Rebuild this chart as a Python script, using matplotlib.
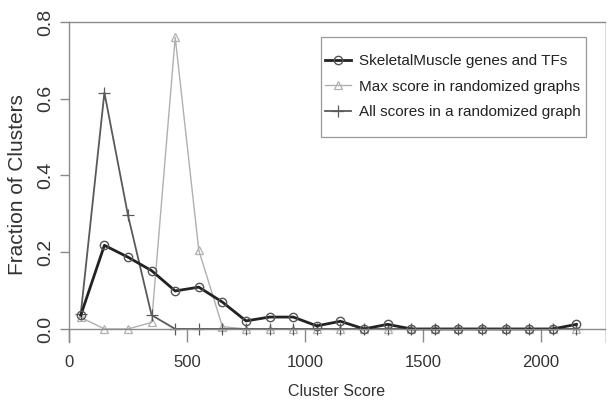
import numpy as np
import matplotlib.pyplot as plt
from matplotlib.patches import Rectangle

plt.rcParams['font.family'] = ['Liberation Sans', 'DejaVu Sans']

# cluster score bins (bin centres)
scores = [50, 150, 250, 350, 450, 550, 650, 750, 850, 950, 1050,
          1150, 1250, 1350, 1450, 1550, 1650, 1750, 1850, 1950, 2050, 2150]

skeletal = [0.036, 0.218, 0.187, 0.152, 0.099, 0.109, 0.070, 0.021, 0.031, 0.031, 0.008,
            0.020, 0.0, 0.012, 0.0, 0.0, 0.0, 0.0, 0.0, 0.0, 0.0, 0.012]
max_random = [0.03, 0.0, 0.0, 0.017, 0.76, 0.205, 0.006, 0.0, 0.0, 0.0, 0.0,
              0.0, 0.0, 0.0, 0.0, 0.0, 0.0, 0.0, 0.0, 0.0, 0.0, 0.0]
all_random = [0.04, 0.616, 0.296, 0.036, 0.0, 0.0, 0.0, 0.0, 0.0, 0.0, 0.0,
              0.0, 0.0, 0.0, 0.0, 0.0, 0.0, 0.0, 0.0, 0.0, 0.0, 0.0]

labels = ['SkeletalMuscle genes and TFs',
          'Max score in randomized graphs',
          'All scores in a randomized graph']

xticks = [0, 500, 1000, 1500, 2000]
yticks = [0.0, 0.2, 0.4, 0.6, 0.8]

W, H = 609, 404
fig = plt.figure(figsize=(W / 100, H / 100), dpi=100)
ax = fig.add_axes([69 / W, 1 - 342 / H, 536 / W, 320 / H])

def ax_x(px):
    return (px - 69) / 536

def ax_y(py):
    return (342 - py) / 320

l2, = ax.plot(scores, max_random, '-', color='#b0b0b0', lw=1.0, marker='^',
              ms=6, mfc='none', mec='#b0b0b0', mew=0.9)
l3, = ax.plot(scores, all_random, '-', color='#5a5a5a', lw=1.3, marker='+',
              ms=9, mec='#5a5a5a', mew=0.9)
l1, = ax.plot(scores, skeletal, '-', color='#222222', lw=2.0, marker='o',
              ms=6, mfc='none', mec='#555555', mew=1.0)

ax.set_xlim(0, 2271)
ax.set_ylim(-0.034, 0.8)

ax.set_xticks(xticks)
ax.set_yticks(yticks)
ax.set_yticklabels(['0.0', '0.2', '0.4', '0.6', '0.8'])

gray = '#8a8a8a'
ax.spines['bottom'].set_position(('data', 0))
for s in ['left', 'bottom', 'top']:
    ax.spines[s].set_color(gray)
    ax.spines[s].set_linewidth(1.0)
ax.spines['right'].set_color('#dddddd')
ax.spines['right'].set_linewidth(0.8)

ax.tick_params(axis='x', direction='out', length=9.5, width=1.0, color=gray,
               pad=9, labelsize=12, labelcolor='#333333')
ax.tick_params(axis='y', direction='out', length=6.5, width=1.0, color=gray,
               pad=4, labelsize=14, labelcolor='#333333', labelrotation=90)
for t in ax.get_yticklabels():
    t.set_va('center')

ax.set_xlabel('Cluster Score', fontsize=11.5, color='#333333')
ax.xaxis.set_label_coords(0.5, ax_y(391))
ax.xaxis.label.set_va('center')
ax.set_ylabel('Fraction of Clusters', fontsize=15, color='#333333')
ax.yaxis.set_label_coords(ax_x(18), ax_y(185))
ax.yaxis.label.set_va('center')

# legend box drawn separately so its padding can match
ax.add_patch(Rectangle((ax_x(321), ax_y(137)), ax_x(586) - ax_x(321),
                       ax_y(37) - ax_y(137), transform=ax.transAxes,
                       fill=True, facecolor='white', edgecolor='#999999',
                       lw=0.9, zorder=4))
leg = ax.legend([l1, l2, l3], labels, loc='upper left',
                bbox_to_anchor=(ax_x(325), ax_y(54)),
                fontsize=11, frameon=False,
                handlelength=1.7, handletextpad=0.5, borderpad=0,
                labelspacing=0.76, borderaxespad=0)
leg.set_zorder(5)
for t in leg.get_texts():
    t.set_color('#222222')

fig.savefig('out.png', dpi=100)
